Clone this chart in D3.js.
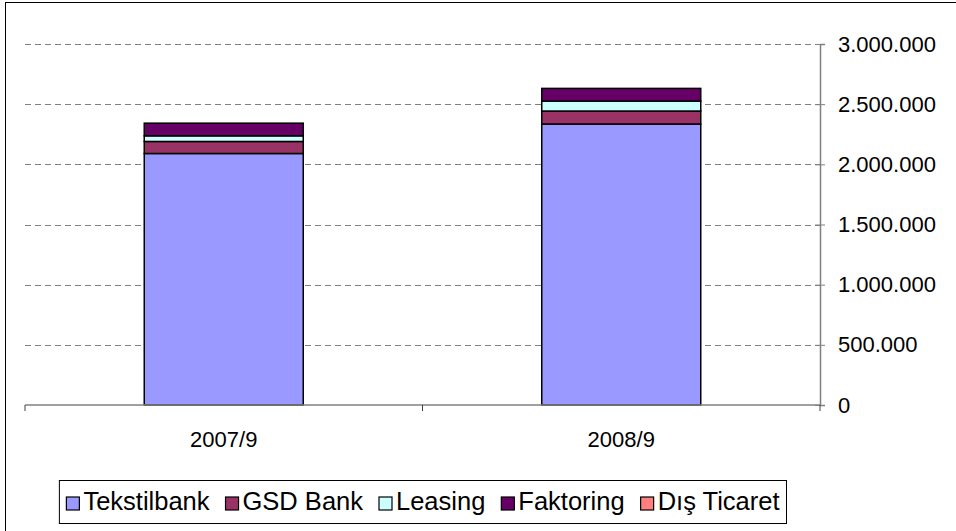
<!DOCTYPE html>
<html>
<head>
<meta charset="utf-8">
<script src="https://cdn.jsdelivr.net/npm/d3@7"></script>
<style>
  html, body { margin: 0; padding: 0; background: #fff; }
  svg { display: block; font-family: "Liberation Sans", Arial, sans-serif; }
</style>
</head>
<body>
<svg id="chart" width="956" height="531"></svg>
<script>
const categories = ["2007/9", "2008/9"];
const seriesNames = ["Tekstilbank", "GSD Bank", "Leasing", "Faktoring", "Dış Ticaret"];
const tekstilbank = [2090000, 2335000];
const gsdBank = [100000, 108000];
const leasing = [47000, 83000];
const faktoring = [105000, 105000];
const disTicaret = [0, 0];
const seriesColors = ["#9999FF", "#993366", "#CCFFFF", "#660066", "#FF8080"];
const yTicks = [0, 500000, 1000000, 1500000, 2000000, 2500000, 3000000];

const seriesValues = [tekstilbank, gsdBank, leasing, faktoring, disTicaret];
const rows = categories.map((c, i) => {
  const r = { category: c };
  seriesNames.forEach((s, j) => r[s] = seriesValues[j][i]);
  return r;
});

const svg = d3.select("#chart");
const W = 956, H = 531;
const plot = { left: 25, right: 820, top: 44, bottom: 405 };

// outer frame (right/bottom edges fall outside the canvas)
svg.append("rect").attr("x", 5.5).attr("y", 2.5).attr("width", W + 10).attr("height", H + 10)
  .attr("fill", "none").attr("stroke", "#000").attr("stroke-width", 1);

const x = d3.scaleBand().domain(categories).range([plot.left, plot.right]).padding(0);
const y = d3.scaleLinear().domain([0, 3000000]).range([plot.bottom, plot.top]);

const locale = d3.formatLocale({ decimal: ",", thousands: ".", grouping: [3], currency: ["", ""] });
const fmt = locale.format(",d");

// gridlines
svg.append("g").selectAll("line").data(yTicks.filter(d => d > 0)).join("line")
  .attr("x1", plot.left).attr("x2", plot.right)
  .attr("y1", d => Math.round(y(d)) + 0.5).attr("y2", d => Math.round(y(d)) + 0.5)
  .attr("stroke", "#808080").attr("stroke-width", 1).attr("stroke-dasharray", "6,4");

// stacked bars
const stack = d3.stack().keys(seriesNames)(rows);
const barW = x.bandwidth() * 0.4;
svg.append("g").selectAll("g").data(stack).join("g")
  .attr("fill", (d, i) => seriesColors[i])
  .selectAll("rect").data(d => d.filter(p => p[1] - p[0] > 0)).join("rect")
  .attr("x", d => x(d.data.category) + (x.bandwidth() - barW) / 2)
  .attr("width", barW)
  .attr("y", d => y(d[1]))
  .attr("height", d => y(d[0]) - y(d[1]))
  .attr("stroke", "#000").attr("stroke-width", 1.5);

// right y axis
const yAxis = d3.axisRight(y).tickValues(yTicks).tickFormat(fmt).tickSize(5).tickPadding(13);
const yg = svg.append("g").attr("transform", `translate(${plot.right},0)`).call(yAxis);
yg.select(".domain").attr("stroke", "#808080").attr("stroke-width", 1.5);
yg.selectAll(".tick line").attr("x1", -5).attr("x2", 5).attr("stroke", "#808080");
yg.selectAll(".tick text").attr("font-size", 22).attr("fill", "#000").attr("font-family", "Liberation Sans, Arial, sans-serif");

// bottom x axis
const xg = svg.append("g").attr("transform", `translate(0,${plot.bottom})`);
xg.append("line").attr("x1", plot.left).attr("x2", plot.right).attr("y1", 0).attr("y2", 0)
  .attr("stroke", "#808080").attr("stroke-width", 1.5);
const bounds = [plot.left].concat(categories.map(c => x(c) + x.bandwidth()));
xg.selectAll("line.b").data(bounds).join("line").attr("class", "b")
  .attr("x1", d => d).attr("x2", d => d).attr("y1", 0).attr("y2", 6)
  .attr("stroke", "#404040").attr("stroke-width", 1);
xg.selectAll("text").data(categories).join("text")
  .attr("x", d => x(d) + x.bandwidth() / 2).attr("y", 42)
  .attr("text-anchor", "middle").attr("font-size", 22).attr("fill", "#000")
  .text(d => d);

// legend (anchored by its right edge)
const lg = svg.append("g");
const legFont = 25.5, sw = 13, gapText = 4, gapItem = 16, padX = 7;
let cx = 0;
const items = lg.selectAll("g").data(seriesNames).join("g");
items.each(function(name, i) {
  const g = d3.select(this);
  g.append("rect").attr("x", cx).attr("y", 497).attr("width", sw).attr("height", sw)
    .attr("fill", seriesColors[i]).attr("stroke", "#000").attr("stroke-width", 1.2);
  const t = g.append("text").attr("x", cx + sw + gapText).attr("y", 509.5)
    .attr("font-size", legFont).attr("fill", "#000").text(name);
  cx += sw + gapText + t.node().getComputedTextLength() + gapItem;
});
const legW = cx - gapItem + padX * 2;
const legRight = 786.5;
const legLeft = legRight - legW;
lg.insert("rect", ":first-child").attr("x", legLeft).attr("y", 480.5).attr("width", legW).attr("height", 43)
  .attr("fill", "#fff").attr("stroke", "#000").attr("stroke-width", 1);
items.attr("transform", `translate(${legLeft + padX},0)`);
</script>
</body>
</html>
